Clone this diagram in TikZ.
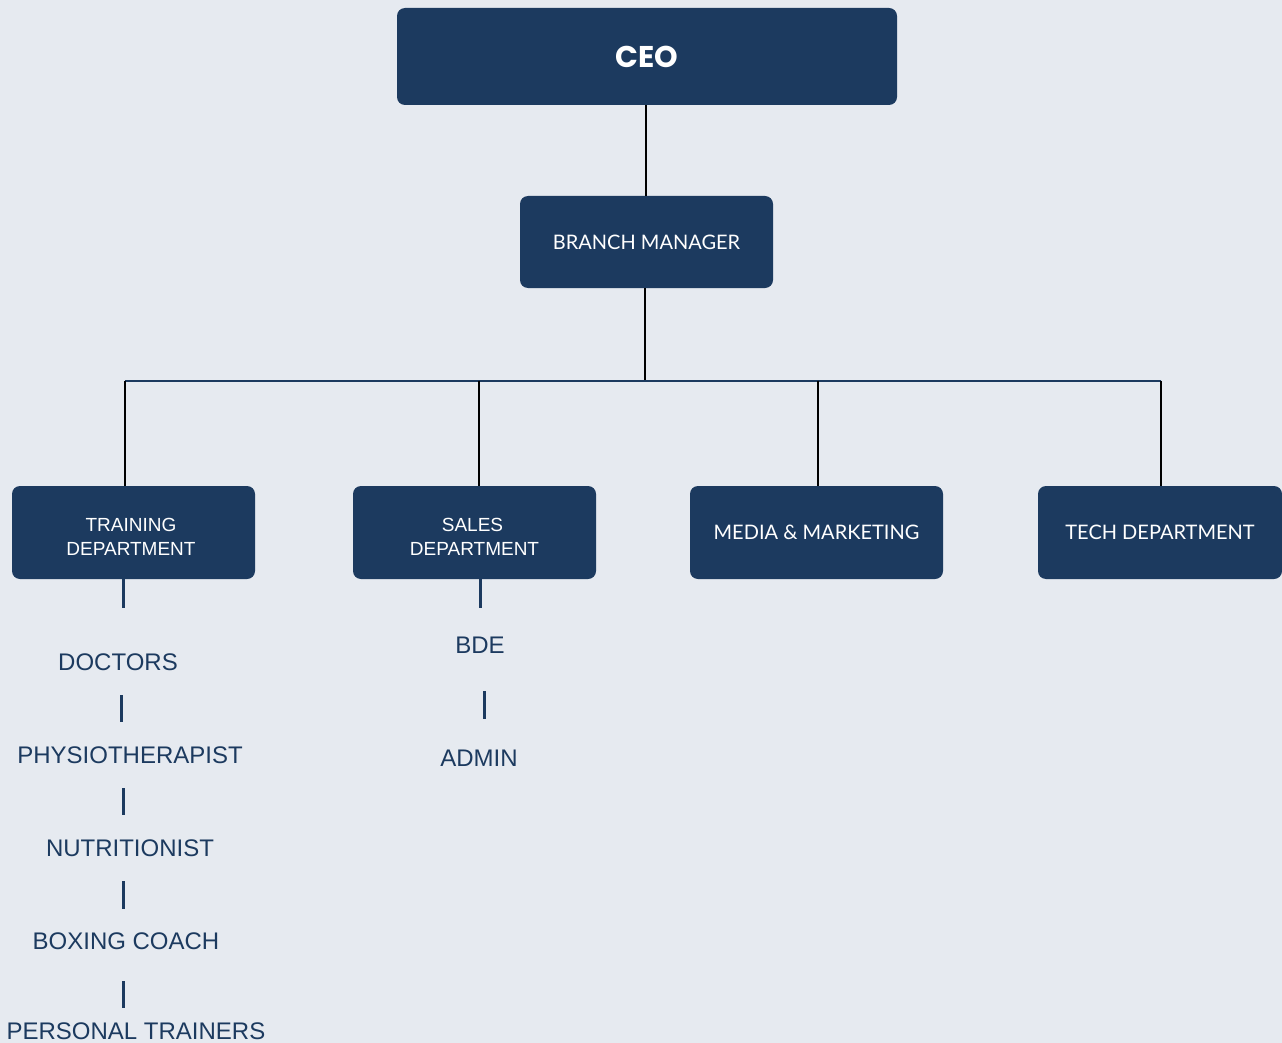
\documentclass[tikz,border=0pt]{standalone}
\usepackage{fontspec}
\setmainfont{Liberation Sans}
\newfontfamily\headfont{Poppins}
\newfontfamily\deptfont{Lato}
\definecolor{navy}{HTML}{1C3A5F}
\definecolor{paper}{HTML}{E6EAF0}
\begin{document}
\begin{tikzpicture}[x=1pt,y=-1pt,
    box/.style={fill=navy, rounded corners=8pt, text=white, align=center, inner sep=0pt},
    role/.style={text=navy, inner sep=0pt, font=\fontsize{24}{28}\selectfont},
    link/.style={black, line width=1.5pt},
    bus/.style={navy, line width=2pt},
    tick/.style={navy, line width=3pt}]

      % background and margins
      \fill [paper] (0, 0) rectangle (1282, 1043);
      \useasboundingbox (0, 0) rectangle (1282, 1043);

      % top
      \node [box, minimum width=500pt, minimum height=97pt, font=\headfont\bfseries\fontsize{30}{36}\selectfont, name=ceo] at (647, 56.5) {CEO};
      \node [box, minimum width=253pt, minimum height=92pt, font=\deptfont\fontsize{20}{24}\selectfont, name=branch] at (646.5, 242) {BRANCH MANAGER};

      % departments
      \node [box, minimum width=243pt, minimum height=93pt, font=\fontsize{19}{24}\selectfont, name=training] at (133.5, 532.5) {\rule{0pt}{22pt}\hspace*{-5pt}TRAINING\\\hspace*{-5pt}DEPARTMENT};
      \node [box, minimum width=243pt, minimum height=93pt, font=\fontsize{19}{24}\selectfont, name=sales] at (474.5, 532.5) {\rule{0pt}{22pt}\hspace*{-4pt}SALES\\DEPARTMENT};
      \node [box, minimum width=253pt, minimum height=93pt, font=\deptfont\fontsize{20}{24}\selectfont, name=media] at (816.5, 532.5) {MEDIA \& MARKETING};
      \node [box, minimum width=244pt, minimum height=93pt, font=\deptfont\fontsize{20}{24}\selectfont, name=tech] at (1160, 532.5) {TECH DEPARTMENT};

      % training staff
      \node [role, name=doctors] at (118, 662) {DOCTORS};
      \node [role, name=physio] at (130, 755) {PHYSIOTHERAPIST};
      \node [role, name=nutri] at (130, 848) {NUTRITIONIST};
      \node [role, name=boxing] at (126, 941) {BOXING COACH};
      \node [role, name=trainers] at (136, 1031) {PERSONAL TRAINERS};

      % sales staff
      \node [role, name=bde] at (480, 645) {BDE};
      \node [role, name=admin] at (479, 758) {ADMIN};

      % connections
      \coordinate (hub) at (645, 380.5);
      \draw [link] (ceo.south -| 646, 0) -- (branch.north -| 646, 0);
      \draw [link] (branch.south -| hub) -- (hub);
      \draw [bus] (125, 380.5) -- (1161, 380.5);
      \draw [link] (125, 380.5) -- (training.north -| 125, 0);
      \draw [link] (479, 380.5) -- (sales.north -| 479, 0);
      \draw [link] (818, 380.5) -- (media.north -| 818, 0);
      \draw [link] (1161, 380.5) -- (tech.north -| 1161, 0);

      % short ticks between the roles
      \draw [tick] (training.south -| 123, 0) -- (123, 608);
      \draw [tick] (121, 695) -- (121, 722);
      \draw [tick] (123, 788) -- (123, 815);
      \draw [tick] (123, 881) -- (123, 909);
      \draw [tick] (123, 981) -- (123, 1008);
      \draw [tick] (sales.south -| 480, 0) -- (480, 608);
      \draw [tick] (484, 691) -- (484, 719);

    \end{tikzpicture}
\end{document}
